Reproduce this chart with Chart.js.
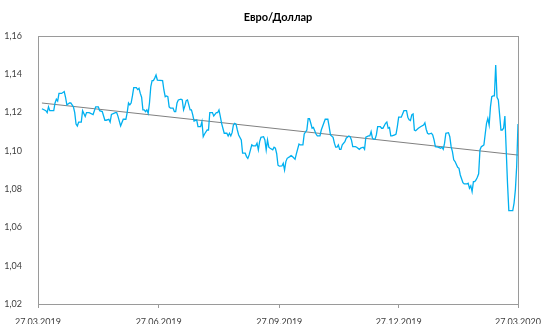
<!DOCTYPE html>
<html>
<head>
<meta charset="utf-8">
<script src="https://cdn.jsdelivr.net/npm/chart.js@4/dist/chart.umd.min.js"></script>
<style>
  html, body { margin: 0; padding: 0; background: #fff; overflow: hidden; }
  canvas { display: block; }
</style>
</head>
<body>
<canvas id="chart" width="544" height="340"></canvas>
<script>
// EUR/USD daily rate, x = days after 27.03.2019
const startDate = new Date(2019, 2, 27);
const tickDays = [0, 92, 184, 275, 366];
const yTicksMin = 1.02;
const yTicksMax = 1.16;
const chartTitle = 'Евро/Доллар';

const days = [
  3, 6, 7, 8, 9, 12, 13, 14, 15, 16, 18, 20, 21, 22, 24, 25, 27, 28, 29, 30,
  31, 33, 34, 36, 37, 39, 42, 44, 46, 47, 49, 51, 52, 54, 55, 56, 59, 60, 61, 63,
  65, 67, 68, 69, 70, 71, 72, 73, 75, 76, 77, 78, 79, 80, 81, 82, 83, 84, 85, 86,
  87, 88, 89, 90, 91, 95, 96, 97, 98, 99, 100, 101, 103, 104, 105, 106, 107, 109, 110, 111,
  112, 113, 114, 116, 117, 118, 119, 121, 122, 124, 125, 126, 127, 129, 130, 131, 132, 133, 134, 136,
  137, 138, 139, 140, 142, 144, 145, 146, 147, 148, 149, 150, 151, 152, 153, 155, 156, 158, 159, 160,
  161, 163, 164, 166, 167, 168, 169, 170, 172, 173, 174, 175, 176, 177, 179, 180, 181, 182, 183, 184,
  186, 187, 188, 189, 190, 192, 193, 194, 196, 197, 199, 200, 202, 203, 205, 206, 207, 208, 209, 210,
  212, 213, 215, 216, 218, 219, 221, 222, 223, 225, 226, 227, 228, 229, 230, 231, 232, 234, 235, 237,
  238, 239, 240, 242, 243, 245, 246, 248, 249, 250, 252, 253, 254, 255, 256, 257, 258, 259, 261, 262,
  263, 265, 266, 267, 268, 269, 270, 272, 273, 274, 275, 277, 278, 279, 281, 282, 283, 284, 285, 286,
  287, 288, 290, 292, 294, 295, 296, 297, 298, 300, 301, 302, 303, 305, 307, 308, 309, 310, 311, 313,
  314, 315, 316, 317, 318, 320, 321, 322, 324, 325, 327, 328, 329, 330, 331, 332, 333, 334, 335, 336,
  337, 338, 339, 340, 341, 342, 343, 344, 345, 346, 347, 348, 349, 350, 351, 352, 353, 354, 355, 356,
  357, 358, 359, 361, 362, 363, 364, 365, 366
];

const rates = [
  1.1220, 1.1210, 1.1200, 1.1230, 1.1210, 1.1210, 1.1250, 1.1270, 1.1260, 1.1300, 1.1300, 1.1310, 1.1280, 1.1240, 1.1250, 1.1250, 1.1230, 1.1200, 1.1140, 1.1130,
  1.1150, 1.1150, 1.1210, 1.1180, 1.1200, 1.1200, 1.1190, 1.1230, 1.1230, 1.1210, 1.1205, 1.1160, 1.1160, 1.1165, 1.1150, 1.1190, 1.1200, 1.1200, 1.1180, 1.1130,
  1.1165, 1.1165, 1.1200, 1.1250, 1.1240, 1.1250, 1.1287, 1.1330, 1.1330, 1.1320, 1.1327, 1.1300, 1.1280, 1.1214, 1.1214, 1.1205, 1.1214, 1.1196, 1.1250, 1.1335,
  1.1367, 1.1367, 1.1380, 1.1396, 1.1370, 1.1367, 1.1318, 1.1283, 1.1287, 1.1283, 1.1230, 1.1223, 1.1223, 1.1205, 1.1205, 1.1250, 1.1266, 1.1270, 1.1266, 1.1214,
  1.1235, 1.1262, 1.1266, 1.1214, 1.1214, 1.1188, 1.1156, 1.1162, 1.1127, 1.1127, 1.1153, 1.1074, 1.1088, 1.1109, 1.1109, 1.1200, 1.1200, 1.1200, 1.1182, 1.1200,
  1.1200, 1.1214, 1.1180, 1.1144, 1.1092, 1.1092, 1.1078, 1.1092, 1.1078, 1.1095, 1.1135, 1.1144, 1.1140, 1.1109, 1.1083, 1.1057, 1.0988, 1.0988, 1.0970, 1.0961,
  1.0979, 1.1031, 1.1026, 1.1026, 1.1040, 1.1005, 1.1048, 1.1071, 1.1074, 1.1057, 1.1005, 1.1057, 1.1019, 1.1014, 1.1005, 1.1019, 1.1014, 1.0985, 1.0925, 1.0920,
  1.0921, 1.0935, 1.0900, 1.0944, 1.0961, 1.0970, 1.0975, 1.0970, 1.0956, 1.0984, 1.1036, 1.1031, 1.1031, 1.1088, 1.1109, 1.1168, 1.1168, 1.1144, 1.1118, 1.1122,
  1.1088, 1.1078, 1.1078, 1.1109, 1.1147, 1.1165, 1.1165, 1.1127, 1.1083, 1.1071, 1.1040, 1.1019, 1.1019, 1.1031, 1.1008, 1.1008, 1.1031, 1.1048, 1.1066, 1.1078,
  1.1074, 1.1057, 1.1022, 1.1022, 1.1019, 1.1008, 1.1014, 1.1019, 1.1008, 1.1071, 1.1078, 1.1078, 1.1100, 1.1066, 1.1061, 1.1061, 1.1083, 1.1127, 1.1127, 1.1118,
  1.1118, 1.1144, 1.1151, 1.1118, 1.1122, 1.1078, 1.1078, 1.1083, 1.1088, 1.1127, 1.1176, 1.1176, 1.1193, 1.1210, 1.1210, 1.1176, 1.1162, 1.1158, 1.1188, 1.1193,
  1.1109, 1.1105, 1.1118, 1.1127, 1.1135, 1.1147, 1.1113, 1.1092, 1.1088, 1.1092, 1.1083, 1.1057, 1.1022, 1.1019, 1.1014, 1.1019, 1.1008, 1.1040, 1.1092, 1.1095,
  1.1074, 1.1022, 1.0996, 1.0953, 1.0944, 1.0914, 1.0909, 1.0874, 1.0834, 1.0827, 1.0827, 1.0831, 1.0805, 1.0817, 1.0787, 1.0839, 1.0839, 1.0848, 1.0862, 1.0880,
  1.1005, 1.1022, 1.1026, 1.1031, 1.1088, 1.1144, 1.1170, 1.1135, 1.1230, 1.1283, 1.1287, 1.1287, 1.1449, 1.1280, 1.1266, 1.1188, 1.1109, 1.1109, 1.1118, 1.1182,
  1.1005, 1.0831, 1.0688, 1.0688, 1.0688, 1.0727, 1.0796, 1.0920, 1.1140
];

// linear trend, endpoints
const trendDays = [3, 366];
const trendRates = [1.1250, 1.0978];

const frameColor = '#9a9a9a';
const textColor = '#404040';

function fmtDate(offset) {
  const d = new Date(startDate.getTime());
  d.setDate(d.getDate() + offset);
  const dd = String(d.getDate()).padStart(2, '0');
  const mm = String(d.getMonth() + 1).padStart(2, '0');
  return dd + '.' + mm + '.' + d.getFullYear();
}

// gray box around the plot area
const plotFrame = {
  id: 'plotFrame',
  beforeDatasetsDraw(chart) {
    const { ctx, chartArea: a } = chart;
    ctx.save();
    ctx.strokeStyle = frameColor;
    ctx.lineWidth = 1;
    ctx.strokeRect(Math.round(a.left) + 0.5, Math.round(a.top) + 0.5,
      Math.round(a.right - a.left), Math.round(a.bottom - a.top));
    ctx.restore();
  }
};

// title centred a bit right of the canvas middle, like the spreadsheet original
const titleText = {
  id: 'titleText',
  afterDraw(chart) {
    const { ctx } = chart;
    ctx.save();
    ctx.fillStyle = '#000';
    ctx.font = 'bold 11px Lato';
    ctx.textAlign = 'center';
    ctx.textBaseline = 'middle';
    ctx.fillText(chartTitle, 278, 17);
    ctx.restore();
  }
};

new Chart(document.getElementById('chart'), {
  type: 'line',
  data: {
    datasets: [
      {
        label: chartTitle,
        data: days.map((d, i) => ({ x: d, y: rates[i] })),
        borderColor: '#00B0F0',
        borderWidth: 1.3,
        pointRadius: 0,
        tension: 0,
        fill: false
      },
      {
        label: 'Тренд',
        data: trendDays.map((d, i) => ({ x: d, y: trendRates[i] })),
        borderColor: '#808080',
        borderWidth: 1,
        pointRadius: 0,
        tension: 0,
        fill: false
      }
    ]
  },
  options: {
    responsive: false,
    animation: false,
    layout: { padding: { left: 0, right: 26, top: 36, bottom: 0 } },
    plugins: {
      legend: { display: false },
      tooltip: { enabled: false },
      title: { display: false }
    },
    scales: {
      x: {
        type: 'linear',
        min: 0,
        max: 366,
        afterBuildTicks: (scale) => { scale.ticks = tickDays.map(v => ({ value: v })); },
        afterFit: (scale) => {
          scale.height = 36;
          // edge labels may hang over the plot sides
          scale.paddingLeft = 0;
          scale.paddingRight = 0;
        },
        grid: { display: true, drawOnChartArea: false, drawTicks: true, tickLength: 4, color: frameColor },
        border: { display: false },
        ticks: {
          color: textColor,
          font: { family: 'Lato', size: 9 },
          padding: 9,
          maxRotation: 0,
          autoSkip: false,
          callback: (v) => fmtDate(v)
        }
      },
      y: {
        min: yTicksMin,
        max: yTicksMax,
        afterFit: (scale) => { scale.width = 38; },
        grid: { display: false },
        border: { display: false },
        ticks: {
          stepSize: 0.02,
          color: textColor,
          font: { family: 'Lato', size: 9 },
          padding: 8,
          callback: (v) => v.toFixed(2).replace('.', ',')
        }
      }
    }
  },
  plugins: [plotFrame, titleText]
});
</script>
</body>
</html>
